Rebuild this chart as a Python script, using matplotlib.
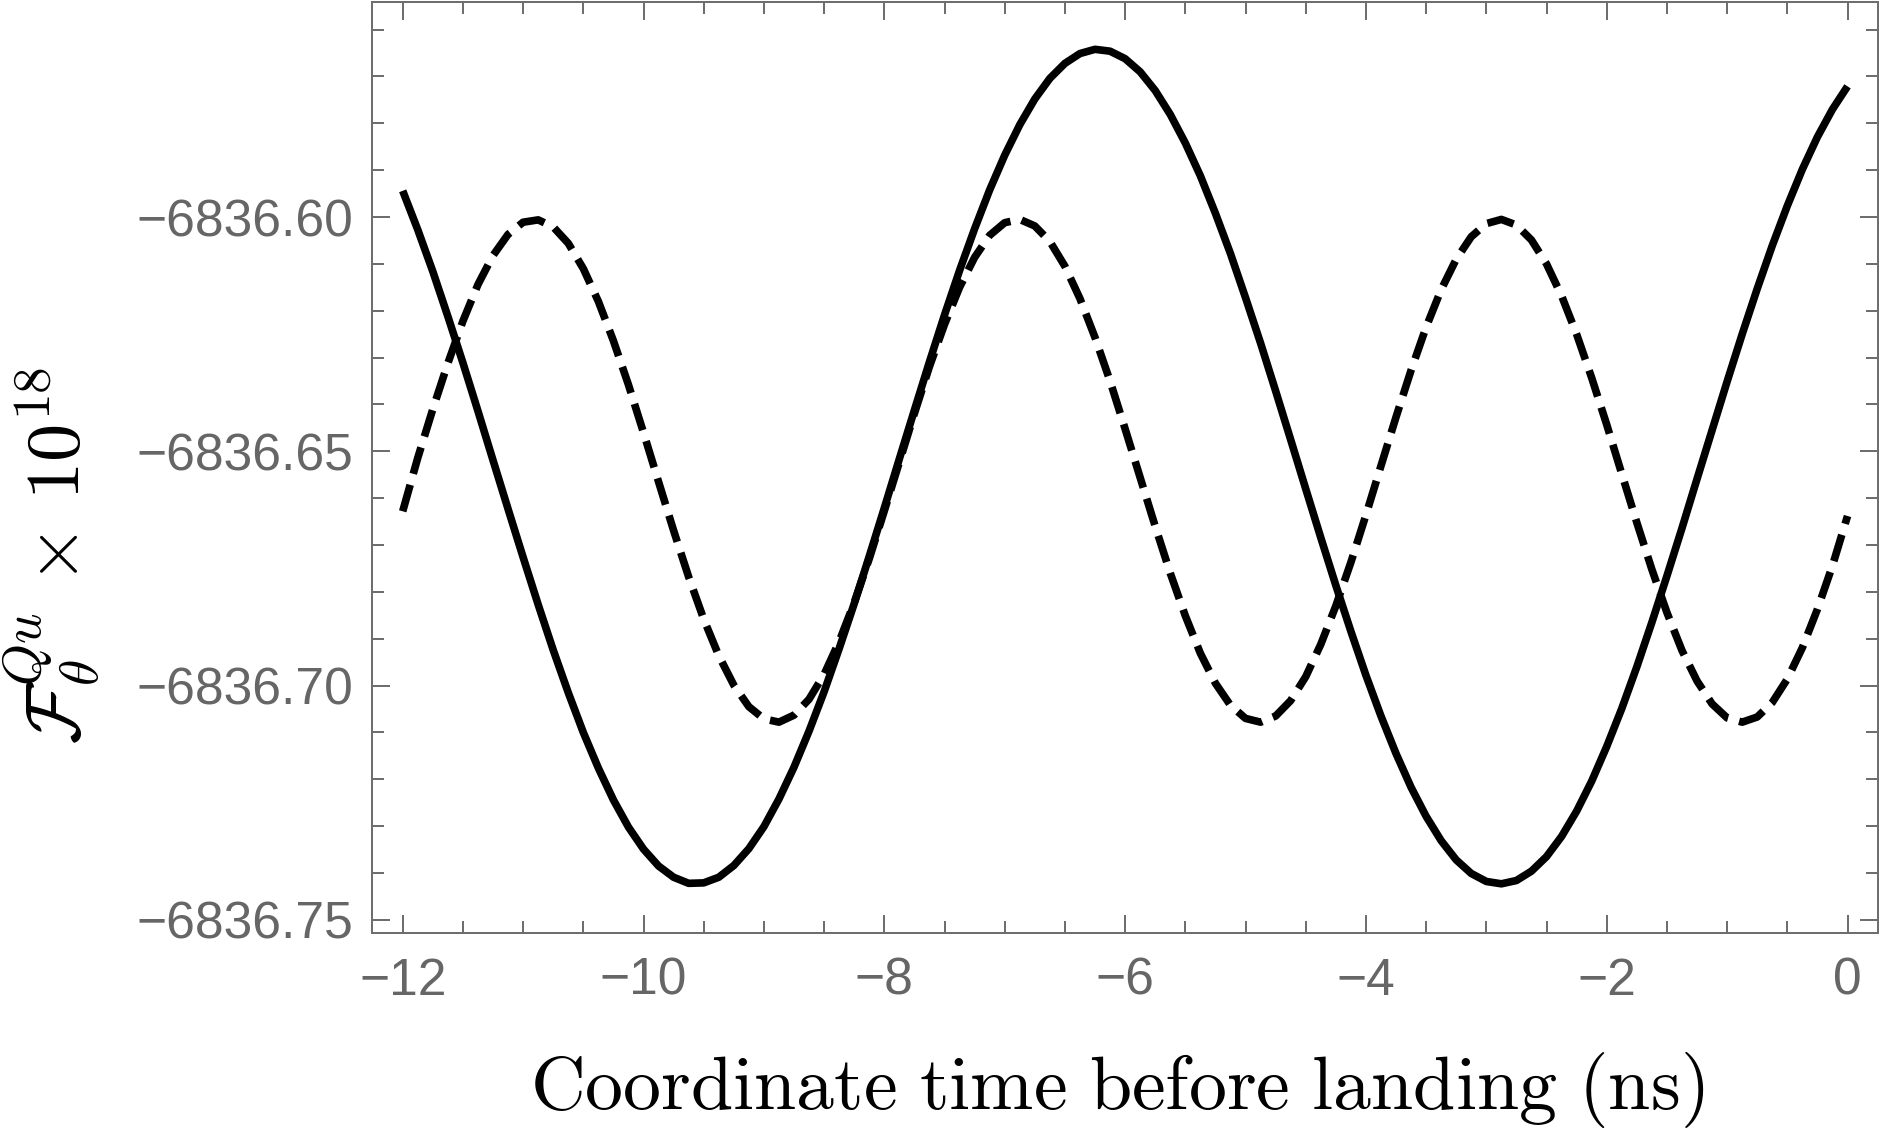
import matplotlib
matplotlib.use("Agg")
import matplotlib.pyplot as plt
from matplotlib.ticker import MultipleLocator, FuncFormatter

# ---- data (time in ns, values of F x 1e18) ----
t = [-12.000, -11.875, -11.750, -11.625, -11.500, -11.375, -11.250, -11.125,
     -11.000, -10.875, -10.750, -10.625, -10.500, -10.375, -10.250, -10.125,
     -10.000, -9.875, -9.750, -9.625, -9.500, -9.375, -9.250, -9.125,
     -9.000, -8.875, -8.750, -8.625, -8.500, -8.375, -8.250, -8.125,
     -8.000, -7.875, -7.750, -7.625, -7.500, -7.375, -7.250, -7.125,
     -7.000, -6.875, -6.750, -6.625, -6.500, -6.375, -6.250, -6.125,
     -6.000, -5.875, -5.750, -5.625, -5.500, -5.375, -5.250, -5.125,
     -5.000, -4.875, -4.750, -4.625, -4.500, -4.375, -4.250, -4.125,
     -4.000, -3.875, -3.750, -3.625, -3.500, -3.375, -3.250, -3.125,
     -3.000, -2.875, -2.750, -2.625, -2.500, -2.375, -2.250, -2.125,
     -2.000, -1.875, -1.750, -1.625, -1.500, -1.375, -1.250, -1.125,
     -1.000, -0.875, -0.750, -0.625, -0.500, -0.375, -0.250, -0.125,
     0.000]

solid = [-6836.5944, -6836.6027, -6836.6116, -6836.6212, -6836.6311, -6836.6414,
         -6836.6519, -6836.6623, -6836.6726, -6836.6827, -6836.6924, -6836.7015,
         -6836.7100, -6836.7176, -6836.7244, -6836.7302, -6836.7349, -6836.7385,
         -6836.7409, -6836.7422, -6836.7421, -6836.7409, -6836.7384, -6836.7348,
         -6836.7301, -6836.7242, -6836.7174, -6836.7097, -6836.7013, -6836.6921,
         -6836.6825, -6836.6724, -6836.6621, -6836.6516, -6836.6412, -6836.6309,
         -6836.6209, -6836.6114, -6836.6025, -6836.5942, -6836.5868, -6836.5803,
         -6836.5748, -6836.5704, -6836.5672, -6836.5651, -6836.5642, -6836.5646,
         -6836.5662, -6836.5690, -6836.5730, -6836.5781, -6836.5842, -6836.5912,
         -6836.5992, -6836.6078, -6836.6172, -6836.6269, -6836.6371, -6836.6475,
         -6836.6580, -6836.6684, -6836.6786, -6836.6884, -6836.6978, -6836.7065,
         -6836.7145, -6836.7217, -6836.7279, -6836.7331, -6836.7372, -6836.7401,
         -6836.7418, -6836.7423, -6836.7416, -6836.7396, -6836.7365, -6836.7322,
         -6836.7268, -6836.7204, -6836.7130, -6836.7049, -6836.6960, -6836.6865,
         -6836.6766, -6836.6664, -6836.6559, -6836.6455, -6836.6351, -6836.6250,
         -6836.6153, -6836.6061, -6836.5976, -6836.5898, -6836.5829, -6836.5770,
         -6836.5721]

dashed = [-6836.6628, -6836.6514, -6836.6410, -6836.6312, -6836.6222, -6836.6144,
          -6836.6082, -6836.6037, -6836.6011, -6836.6006, -6836.6021, -6836.6056,
          -6836.6110, -6836.6180, -6836.6264, -6836.6358, -6836.6460, -6836.6565,
          -6836.6669, -6836.6768, -6836.6858, -6836.6936, -6836.6999, -6836.7045,
          -6836.7071, -6836.7078, -6836.7063, -6836.7029, -6836.6976, -6836.6906,
          -6836.6823, -6836.6729, -6836.6627, -6836.6523, -6836.6419, -6836.6319,
          -6836.6229, -6836.6150, -6836.6086, -6836.6039, -6836.6012, -6836.6005,
          -6836.6019, -6836.6052, -6836.6105, -6836.6174, -6836.6257, -6836.6350,
          -6836.6452, -6836.6556, -6836.6660, -6836.6760, -6836.6851, -6836.6931,
          -6836.6995, -6836.7042, -6836.7070, -6836.7078, -6836.7065, -6836.7032,
          -6836.6981, -6836.6912, -6836.6830, -6836.6737, -6836.6636, -6836.6531,
          -6836.6427, -6836.6327, -6836.6235, -6836.6155, -6836.6090, -6836.6042,
          -6836.6014, -6836.6005, -6836.6017, -6836.6049, -6836.6100, -6836.6168,
          -6836.6250, -6836.6343, -6836.6443, -6836.6548, -6836.6652, -6836.6752,
          -6836.6844, -6836.6925, -6836.6990, -6836.7039, -6836.7069, -6836.7078,
          -6836.7067, -6836.7036, -6836.6986, -6836.6919, -6836.6837, -6836.6744,
          -6836.6638]

xticks_major = [-12, -10, -8, -6, -4, -2, 0]
yticks_major = [-6836.75, -6836.70, -6836.65, -6836.60]

xlabel = r"$\mathrm{Coordinate\ time\ before\ landing\ (ns)}$"
ylabel = r"$\mathcal{F}_{\theta}^{Qu}\,\times\,10^{18}$"

# ---- style ----
plt.rcParams["mathtext.fontset"] = "cm"
plt.rcParams["font.family"] = ["Liberation Sans", "DejaVu Sans"]
frame_col = "#6e6e6e"
lab_col = "#666666"

W, H, DPI = 1888, 1128, 100
fig = plt.figure(figsize=(W / DPI, H / DPI), dpi=DPI)
ax = fig.add_axes([371.7 / W, 1 - 933 / H, (1877.5 - 371.7) / W, (933 - 2) / H])

ax.plot(t, solid, color="black", lw=5.5, solid_capstyle="butt", solid_joinstyle="round")
ax.plot(t, dashed, color="black", lw=5.5, dashes=(3.6, 1.5), dash_capstyle="butt",
        dash_joinstyle="round")

ax.set_xlim(-12.2575, 0.249)
ax.set_ylim(-6836.7528, -6836.5541)

ax.xaxis.set_major_locator(plt.FixedLocator(xticks_major))
ax.xaxis.set_minor_locator(MultipleLocator(0.5))
ax.yaxis.set_major_locator(plt.FixedLocator(yticks_major))
ax.yaxis.set_minor_locator(MultipleLocator(0.01))

ax.xaxis.set_major_formatter(FuncFormatter(lambda v, p: f"{v:.0f}".replace("-", "\u2212")))
ax.yaxis.set_major_formatter(FuncFormatter(lambda v, p: f"{v:.2f}".replace("-", "\u2212")))

for s in ax.spines.values():
    s.set_color(frame_col)
    s.set_linewidth(1.44)

ax.tick_params(which="both", direction="in", top=True, right=True, color=frame_col,
               width=1.44, labelcolor=lab_col, labelsize=37.2)
ax.tick_params(which="major", length=13)
ax.tick_params(which="minor", length=8.6)
ax.tick_params(axis="x", which="major", pad=17)
ax.tick_params(axis="y", which="major", pad=13)

fig.text(1117 / W, 1 - 1109 / H, xlabel, ha="center", va="baseline", fontsize=54.7, color="black")
fig.text(52 / W, 1 - 555 / H, ylabel, ha="center", va="center", rotation=90, fontsize=55,
         color="black")

fig.savefig("out.png", dpi=DPI, facecolor="white")
